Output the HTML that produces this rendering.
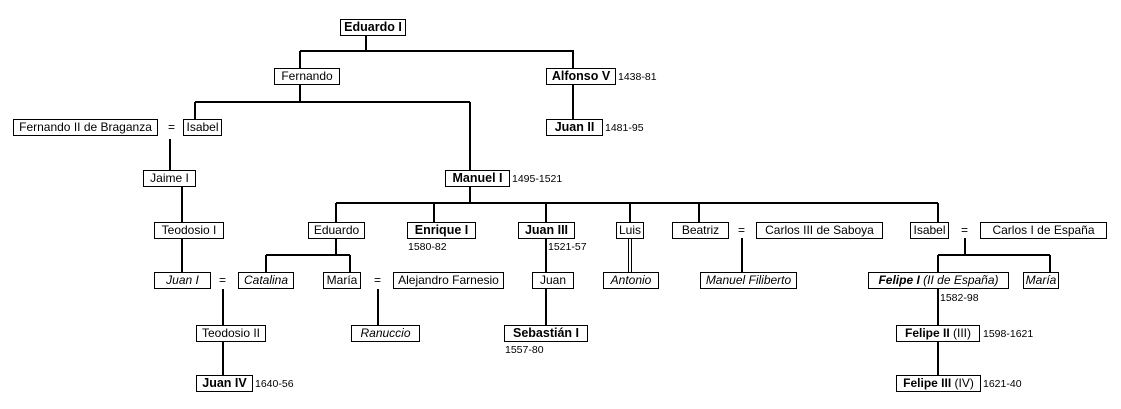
<!DOCTYPE html>
<html><head><meta charset="utf-8"><style>
body{margin:0;width:1121px;height:409px;background:#fff;position:relative;overflow:hidden;font-family:"Liberation Sans",sans-serif;}
.b{position:absolute;border:1px solid #000;box-sizing:border-box;height:17px;font-size:12px;line-height:15px;text-align:center;white-space:nowrap;background:#fff;color:#000;}
.k{font-weight:bold;font-size:12.5px}
.i{font-style:italic}
.d{position:absolute;font-size:10.5px;line-height:12px;white-space:nowrap}
.e{position:absolute;font-size:12px;line-height:15px}
svg{position:absolute;left:0;top:0}
</style></head><body>
<svg width="1121" height="409"><g stroke="#000" stroke-width="2" fill="none">
<path d="M366 35V51M300 51H574M300 51V68M573 51V68M573 85V119"/>
<path d="M300 85V102M195 102H470M195 102V119M470 102V170"/>
<path d="M170 139V170M182 187V222M182 238V272M223 289V325M223 342V375"/>
<path d="M470 187V203M336 203H938M336 203V222M434 203V222M546 203V222M630 203V222M699 203V222M938 203V222"/>
<path d="M336 238V255M266 255H350M266 255V272M350 255V272M378 289V325"/>
<path d="M546 238V272M546 289V325M742 238V272"/>
<path d="M965 238V255M938 255H1050M938 255V272M1050 255V272M938 289V325M938 342V375"/>
</g>
<g stroke="#000" stroke-width="1"><path d="M628.5 238V272M631.5 238V272"/></g></svg>

<div class="b k" style="left:340px;top:19px;width:66px">Eduardo I</div>
<div class="b" style="left:274px;top:68px;width:66px">Fernando</div>
<div class="b k" style="left:546px;top:68px;width:70px">Alfonso V</div><div class="d" style="left:618px;top:71px">1438-81</div>
<div class="b k" style="left:546px;top:119px;width:57px">Juan II</div><div class="d" style="left:605px;top:122px">1481-95</div>
<div class="b" style="left:13px;top:119px;width:145px">Fernando II de Braganza</div>
<div class="e" style="left:168px;top:120px">=</div>
<div class="b" style="left:183px;top:119px;width:39px">Isabel</div>
<div class="b" style="left:143px;top:170px;width:53px">Jaime I</div>
<div class="b k" style="left:445px;top:170px;width:65px">Manuel I</div><div class="d" style="left:512px;top:173px">1495-1521</div>

<div class="b" style="left:154px;top:222px;width:70px">Teodosio I</div>
<div class="b" style="left:308px;top:222px;width:57px">Eduardo</div>
<div class="b k" style="left:407px;top:222px;width:69px">Enrique I</div><div class="d" style="left:408px;top:241px">1580-82</div>
<div class="b k" style="left:518px;top:222px;width:57px">Juan III</div><div class="d" style="left:548px;top:241px">1521-57</div>
<div class="b" style="left:616px;top:222px;width:28px">Luis</div>
<div class="b" style="left:672px;top:222px;width:57px">Beatriz</div>
<div class="e" style="left:738px;top:223px">=</div>
<div class="b" style="left:756px;top:222px;width:127px">Carlos III de Saboya</div>
<div class="b" style="left:910px;top:222px;width:39px">Isabel</div>
<div class="e" style="left:961px;top:223px">=</div>
<div class="b" style="left:980px;top:222px;width:127px">Carlos I de España</div>

<div class="b i" style="left:154px;top:272px;width:57px">Juan I</div>
<div class="e" style="left:219px;top:273px">=</div>
<div class="b i" style="left:238px;top:272px;width:56px">Catalina</div>
<div class="b" style="left:323px;top:272px;width:38px">María</div>
<div class="e" style="left:374px;top:273px">=</div>
<div class="b" style="left:393px;top:272px;width:111px">Alejandro Farnesio</div>
<div class="b" style="left:532px;top:272px;width:42px">Juan</div>
<div class="b i" style="left:603px;top:272px;width:56px">Antonio</div>
<div class="b i" style="left:700px;top:272px;width:97px">Manuel Filiberto</div>
<div class="b i" style="left:868px;top:272px;width:141px"><b>Felipe I</b> (II de España)</div><div class="d" style="left:940px;top:292px">1582-98</div>
<div class="b i" style="left:1023px;top:272px;width:36px">María</div>

<div class="b" style="left:196px;top:325px;width:70px">Teodosio II</div>
<div class="b i" style="left:351px;top:325px;width:69px">Ranuccio</div>
<div class="b k" style="left:504px;top:325px;width:84px">Sebastián I</div><div class="d" style="left:505px;top:344px">1557-80</div>
<div class="b" style="left:896px;top:325px;width:84px"><b>Felipe II</b> (III)</div><div class="d" style="left:983px;top:328px">1598-1621</div>

<div class="b k" style="left:196px;top:375px;width:57px">Juan IV</div><div class="d" style="left:255px;top:378px">1640-56</div>
<div class="b" style="left:896px;top:375px;width:85px"><b>Felipe III</b> (IV)</div><div class="d" style="left:983px;top:378px">1621-40</div>
</body></html>
